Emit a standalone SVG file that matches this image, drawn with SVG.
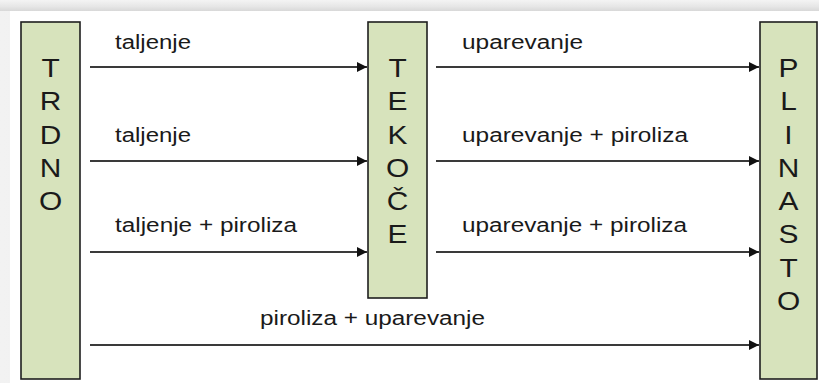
<svg xmlns="http://www.w3.org/2000/svg" width="819" height="383" viewBox="0 0 819 383">
  <defs>
    <linearGradient id="topShade" x1="0" y1="0" x2="0" y2="1">
      <stop offset="0" stop-color="#f4f4f4"/>
      <stop offset="0.6" stop-color="#e6e6e6"/>
      <stop offset="1" stop-color="#d8d8d8"/>
    </linearGradient>
    <linearGradient id="leftShade" x1="0" y1="0" x2="1" y2="0">
      <stop offset="0" stop-color="#f2f2f2"/>
      <stop offset="1" stop-color="#e2e2e2"/>
    </linearGradient>
    <marker id="arrow" viewBox="0 0 10 10" refX="10" refY="5" markerWidth="10" markerHeight="10" markerUnits="userSpaceOnUse" orient="auto">
      <path d="M0,0 L10,5 L0,10 Z" fill="#111"/>
    </marker>
  </defs>
  <style>
    .box { fill: #d7e3bc; stroke: #1e1e1e; stroke-width: 1.6; }
    .big { font-family: "Liberation Sans", Arial, sans-serif; font-size: 26px; fill: #1a1a1a; text-anchor: middle; }
    .lbl { font-family: "Liberation Sans", Arial, sans-serif; font-size: 20px; fill: #1a1a1a; }
    .conn { stroke: #3a3a3a; stroke-width: 2.2; fill: none; marker-end: url(#arrow); }
  </style>

  <!-- background frame -->
  <rect x="0" y="0" width="819" height="383" fill="url(#leftShade)"/>
  <rect x="0" y="0" width="819" height="11" fill="url(#topShade)"/>
  <rect x="10" y="11" width="809" height="372" fill="#ffffff"/>

  <g id="trdno">
    <rect class="box" x="21" y="22" width="59" height="357"/>
    <g transform="translate(50.5,0) scale(1.15,1)">
      <text class="big" x="0" y="77">T</text>
      <text class="big" x="0" y="110.3">R</text>
      <text class="big" x="0" y="143.6">D</text>
      <text class="big" x="0" y="177">N</text>
      <text class="big" x="0" y="210.2">O</text>
    </g>
  </g>

  <g id="tekoce">
    <rect class="box" x="368" y="22" width="59" height="276"/>
    <g transform="translate(397.5,0) scale(1.15,1)">
      <text class="big" x="0" y="77">T</text>
      <text class="big" x="0" y="110.3">E</text>
      <text class="big" x="0" y="143.6">K</text>
      <text class="big" x="0" y="177">O</text>
      <text class="big" x="0" y="210.2">Č</text>
      <text class="big" x="0" y="243.5">E</text>
    </g>
  </g>

  <g id="plinasto">
    <rect class="box" x="760" y="22" width="57" height="357"/>
    <g transform="translate(788.5,0) scale(1.15,1)">
      <text class="big" x="0" y="77">P</text>
      <text class="big" x="0" y="110.3">L</text>
      <text class="big" x="0" y="143.6">I</text>
      <text class="big" x="0" y="177">N</text>
      <text class="big" x="0" y="210.2">A</text>
      <text class="big" x="0" y="243.5">S</text>
      <text class="big" x="0" y="276.8">T</text>
      <text class="big" x="0" y="310">O</text>
    </g>
  </g>

  <g id="connectors">
    <line class="conn" x1="90" y1="67" x2="367" y2="67"/>
    <line class="conn" x1="90" y1="161" x2="367" y2="161"/>
    <line class="conn" x1="90" y1="252" x2="367" y2="252"/>
    <line class="conn" x1="436" y1="67" x2="759" y2="67"/>
    <line class="conn" x1="436" y1="161" x2="759" y2="161"/>
    <line class="conn" x1="436" y1="252" x2="759" y2="252"/>
    <line class="conn" x1="90" y1="345" x2="759" y2="345"/>
  </g>

  <g id="labels">
    <text class="lbl" x="115" y="49" textLength="76" lengthAdjust="spacingAndGlyphs">taljenje</text>
    <text class="lbl" x="115" y="142" textLength="76" lengthAdjust="spacingAndGlyphs">taljenje</text>
    <text class="lbl" x="115" y="232" textLength="182" lengthAdjust="spacingAndGlyphs">taljenje + piroliza</text>
    <text class="lbl" x="462" y="49" textLength="121" lengthAdjust="spacingAndGlyphs">uparevanje</text>
    <text class="lbl" x="462" y="142" textLength="226" lengthAdjust="spacingAndGlyphs">uparevanje + piroliza</text>
    <text class="lbl" x="462" y="232" textLength="225" lengthAdjust="spacingAndGlyphs">uparevanje + piroliza</text>
    <text class="lbl" x="260" y="325" textLength="225" lengthAdjust="spacingAndGlyphs">piroliza + uparevanje</text>
  </g>
</svg>
